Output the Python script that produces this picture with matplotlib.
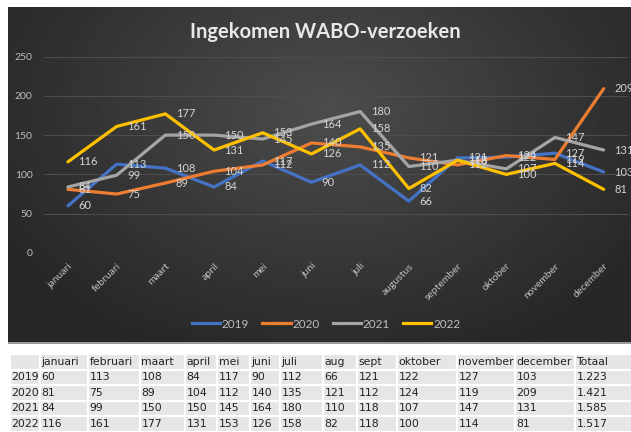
import numpy as np
import matplotlib
matplotlib.use('Agg')
import matplotlib.pyplot as plt
from matplotlib.lines import Line2D

months = ['januari', 'februari', 'maart', 'april', 'mei', 'juni', 'juli',
          'augustus', 'september', 'oktober', 'november', 'december']
table_months = ['januari', 'februari', 'maart', 'april', 'mei', 'juni', 'juli',
                'aug', 'sept', 'oktober', 'november', 'december']
years = ['2019', '2020', '2021', '2022']
v2019 = [60, 113, 108, 84, 117, 90, 112, 66, 121, 122, 127, 103]
v2020 = [81, 75, 89, 104, 112, 140, 135, 121, 112, 124, 119, 209]
v2021 = [84, 99, 150, 150, 145, 164, 180, 110, 118, 107, 147, 131]
v2022 = [116, 161, 177, 131, 153, 126, 158, 82, 118, 100, 114, 81]
totals = ['1.223', '1.421', '1.585', '1.517']
yticks = [0, 50, 100, 150, 200, 250]
title = 'Ingekomen WABO-verzoeken'

series = [v2019, v2020, v2021, v2022]
colors = ['#4472C4', '#ED7D31', '#A5A5A5', '#FFC000']

W, H = 631, 432
fig = plt.figure(figsize=(W / 100, H / 100), dpi=100)
fig.patch.set_facecolor('white')


def rect(l, t, r, b):
    return [l / W, 1 - b / H, (r - l) / W, (b - t) / H]


# dark gradient panel
bg = fig.add_axes(rect(8, 7, 650, 342))
ny, nx = 200, 400
yy, xx = np.mgrid[0:1:ny * 1j, 0:1:nx * 1j]
d = np.sqrt(((xx - 0.5) * 1.5) ** 2 + ((yy - 0.3) * 1.1) ** 2)
g = 0.30 - 0.15 * np.clip(d / 0.9, 0, 1)
bg.imshow(g, cmap='gray', vmin=0, vmax=1, aspect='auto', extent=[0, 1, 1, 0],
          interpolation='bilinear')
bg.set_axis_off()

# shadow line under panel
fig.add_artist(plt.Rectangle((8 / W, 1 - 344 / H), 1, 2 / H,
                             transform=fig.transFigure, color='#9a9a9a', lw=0))

ax = fig.add_axes(rect(43.6, 56.5, 628, 253))
ax.set_facecolor('none')
x = np.arange(len(months))
for vals, c, yr in zip(series, colors, years):
    ax.plot(x, vals, color=c, lw=2.3, solid_capstyle='round',
            solid_joinstyle='round', zorder=3)
    for xi, v in zip(x, vals):
        ax.annotate(str(v), (xi, v), xytext=(7.5, 0), textcoords='offset points',
                    ha='left', va='center', color='#d4d4d4', fontsize=8,
                    family='Lato', zorder=4)

ax.set_xlim(-0.5, 11.5)
ax.set_ylim(0, 250)
ax.set_yticks(yticks)
ax.set_yticklabels([str(t) for t in yticks], color='#bfbfbf', fontsize=7.5,
                   family='Lato')
ax.set_xticks(x)
ax.set_xticklabels(months, rotation=45, ha='right', va='top',
                   rotation_mode='anchor', color='#bfbfbf', fontsize=7.5,
                   family='Lato')
ax.tick_params(length=0)
ax.tick_params(axis='y', pad=8)
ax.tick_params(axis='x', pad=6)
ax.grid(axis='y', color='#4d4d4d', lw=0.8)
ax.set_axisbelow(True)
for s in ax.spines.values():
    s.set_visible(False)

handles = [Line2D([0], [0], color=c, lw=2.3) for c in colors]
fig.legend(handles, years, loc='center', bbox_to_anchor=(326 / W, 1 - 324 / H),
           ncol=4, frameon=False, handlelength=2.4,
           handletextpad=0.15, columnspacing=1.1,
           prop={'family': 'Lato', 'size': 8.5}, labelcolor='#bfbfbf')

fig.text(325 / W, 1 - 32 / H, title, ha='center', va='center',
         color='#e8e8e8', fontsize=14.5, fontweight='bold', family='Lato')

# table
bounds = [10, 40, 88, 140, 185, 217, 250, 280, 323, 357, 397, 457, 515, 575, 645]
tax = fig.add_axes(rect(bounds[0], 354, bounds[-1], 431.5))
tax.set_axis_off()
cell_text = [[''] + table_months + ['Totaal']]
for yr, vals, tot in zip(years, series, totals):
    cell_text.append([yr] + [str(v) for v in vals] + [tot])
total_w = bounds[-1] - bounds[0]
col_w = [(bounds[i + 1] - bounds[i]) / total_w for i in range(len(bounds) - 1)]
tbl = tax.table(cellText=cell_text, colWidths=col_w, cellLoc='left',
                bbox=[0, 0, 1, 1])
tbl.auto_set_font_size(False)
tbl.set_fontsize(7.8)
for (r, c), cell in tbl.get_celld().items():
    cell.set_facecolor('#e6e6e6')
    cell.set_edgecolor('white')
    cell.set_linewidth(1.5)
    cell.PAD = 1.5 / (bounds[c + 1] - bounds[c])
    cell.get_text().set_color('#222222')
    cell.get_text().set_fontfamily('DejaVu Sans')

fig.savefig('out.png', dpi=100)
